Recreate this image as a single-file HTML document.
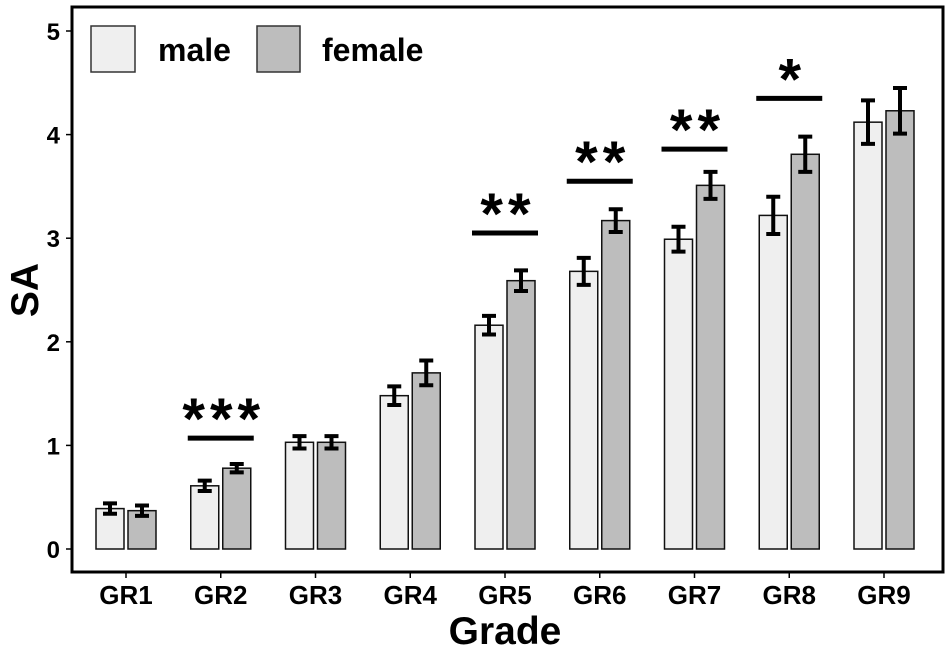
<!DOCTYPE html>
<html><head><meta charset="utf-8"><style>
body{margin:0;background:#fff}
svg text{font-family:"Liberation Sans",Arial,sans-serif;font-weight:bold}
</style></head><body>
<svg id="c" width="950" height="653" viewBox="0 0 950 653" xmlns="http://www.w3.org/2000/svg">
<rect x="72" y="7" width="871" height="565" fill="#fff" stroke="#000" stroke-width="3"/>
<g id="g"></g>
<rect x="91" y="26" width="44" height="46" fill="#efefef" stroke="#333" stroke-width="1.5"/>
<text x="158" y="61" font-size="32">male</text>
<rect x="257" y="26" width="43" height="46" fill="#bdbdbd" stroke="#333" stroke-width="1.5"/>
<text x="322" y="61" font-size="32">female</text>
<text x="38" y="290" font-size="39" text-anchor="middle" transform="rotate(-90 38 290)">SA</text>
<text x="505" y="644" font-size="39" text-anchor="middle">Grade</text>
</svg>
<script>
const categories=["GR1","GR2","GR3","GR4","GR5","GR6","GR7","GR8","GR9"];
const maleValues=[0.39,0.61,1.03,1.48,2.16,2.68,2.99,3.22,4.12];
const femaleValues=[0.37,0.78,1.03,1.70,2.59,3.17,3.51,3.81,4.23];
const maleErr=[0.05,0.05,0.06,0.09,0.09,0.13,0.12,0.18,0.21];
const femaleErr=[0.05,0.04,0.06,0.12,0.10,0.11,0.13,0.17,0.22];
const yTicks=[0,1,2,3,4,5];
const sigIndex=[1,4,5,6,7];
const sigLevel=[1.07,3.05,3.55,3.86,4.35];
const sigLabel=["***","**","**","**","*"];
const NS="http://www.w3.org/2000/svg";
const g=document.getElementById('g');
function y(v){return 549-v*103.6;}
function x(i){return 126+i*94.75;}
function mk(t,a,txt){const e=document.createElementNS(NS,t);for(const k in a)e.setAttribute(k,a[k]);if(txt!==undefined)e.textContent=txt;g.appendChild(e);return e;}
yTicks.forEach(t=>{
 const l=mk('line',{x1:66,x2:72,y1:y(t),y2:y(t),stroke:'#000','stroke-width':1.5});
 
 
 const tx=mk('text',{x:60,y:y(t)+9,'font-size':24,'text-anchor':'end'},String(t));
 
 
});
categories.forEach((c,i)=>{
 const cx=x(i);
 const tk=mk('line',{x1:cx,x2:cx,y1:572,y2:578,stroke:'#000','stroke-width':1.5});
 
 
 const tl=mk('text',{x:cx,y:604,'font-size':26,'text-anchor':'middle'},c);
 
 
 [[maleValues,maleErr,'#efefef',-30,'male'],[femaleValues,femaleErr,'#bdbdbd',2,'female']].forEach(([vals,errs,fill,off,nm])=>{
  const v=vals[i],e=errs[i],bx=cx+off;
  const r=mk('rect',{x:bx,y:y(v),width:28,height:y(0)-y(v),fill:fill,stroke:'#111','stroke-width':1.5});
  
  
  const m=bx+14;
  const eb=mk('path',{d:`M${m-7},${y(v+e)}H${m+7}M${m},${y(v+e)}V${y(v-e)}M${m-7},${y(v-e)}H${m+7}`,stroke:'#000','stroke-width':4,fill:'none'});
  
  
 });
});
sigIndex.forEach((i,k)=>{
 const cx=x(i),yy=y(sigLevel[k]);
 const l=mk('line',{x1:cx-33,x2:cx+33,y1:yy,y2:yy,stroke:'#000','stroke-width':5});
 
 
 const t=mk('text',{x:cx+3,y:yy+1,'font-size':58,'text-anchor':'middle','letter-spacing':5},sigLabel[k]);
 
 
});
</script>
</body></html>
